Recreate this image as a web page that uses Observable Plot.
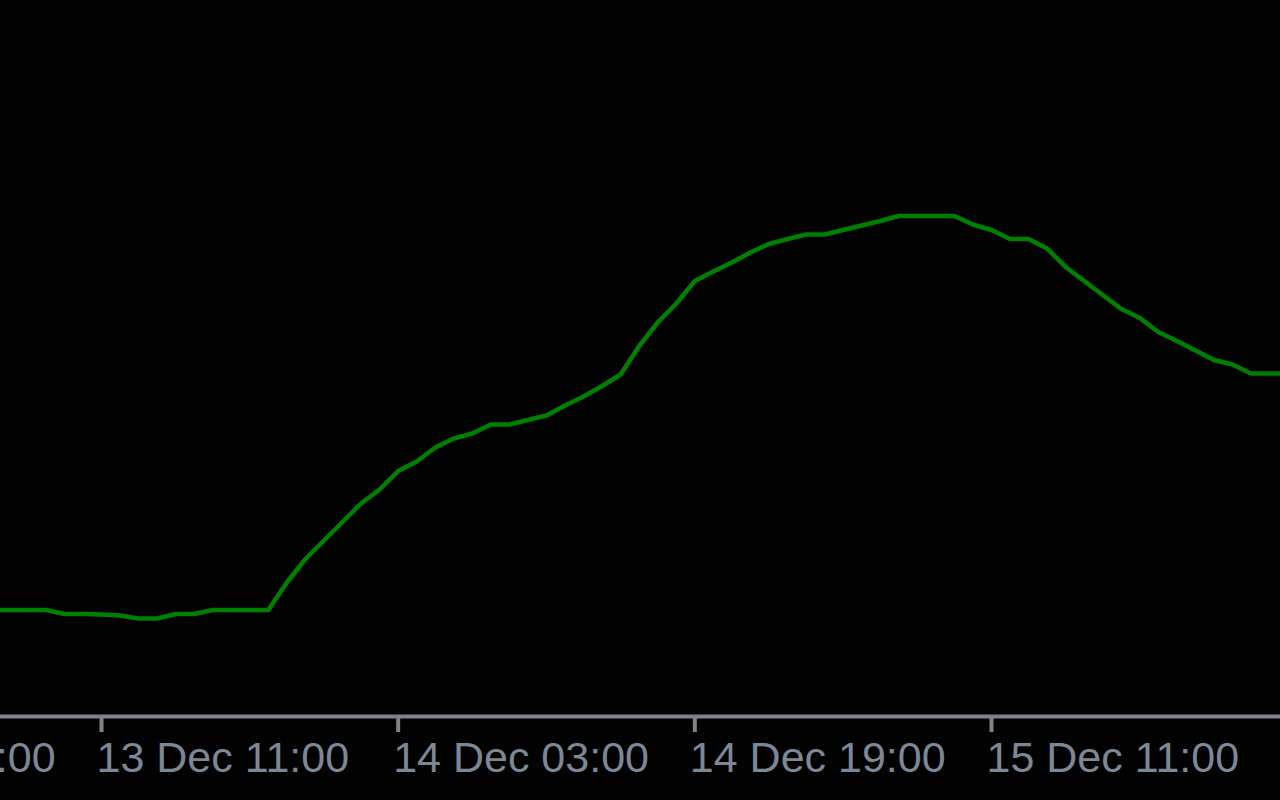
<!DOCTYPE html>
<html>
<head>
<meta charset="utf-8">
<script src="https://cdn.jsdelivr.net/npm/d3@7"></script>
<script src="https://cdn.jsdelivr.net/npm/@observablehq/plot@0.6"></script>
<style>
  html, body { margin: 0; padding: 0; background: #020202; }
  #chart { width: 1280px; height: 800px; overflow: hidden; }
  #chart svg { display: block; }
</style>
</head>
<body>
<div id="chart"></div>
<script>
// Hourly closes, starting 13 Dec 05:00 (arbitrary units; the chart shows no y axis)
const seriesStart = "2023-12-13T05:00:00Z";
const values = [
  10.65, 10.65, 10.65, 10.65, 10.25, 10.25, 10.2, 10.1, 9.8, 9.8, 10.25, 10.25,
  10.65, 10.65, 10.65, 10.65, 13.4, 15.75, 17.6,
  19.45, 21.3, 22.7, 24.55, 25.5, 26.9, 27.8, 28.3, 29.2, 29.2, 29.65, 30.1,
  31.1, 32.0, 33.05, 34.2, 37.05, 39.4, 41.3, 43.55, 44.5, 45.4, 46.4, 47.25,
  47.75, 48.2, 48.2, 48.65, 49.1, 49.55, 50.05, 50.05, 50.05, 50.05, 49.2, 48.65,
  47.75, 47.75, 46.8, 44.95, 43.55, 42.15, 40.75, 39.85, 38.45, 37.55, 36.6, 35.65,
  35.2, 34.3, 34.3, 34.3
];
const tickLabels = ["2023-12-12T19:00:00Z", "2023-12-13T11:00:00Z", "2023-12-14T03:00:00Z", "2023-12-14T19:00:00Z", "2023-12-15T11:00:00Z"];
const xDomain = ["2023-12-13T05:33:10Z", "2023-12-16T02:35:10Z"];
const yDomain = [0, 71.6];

const t0 = new Date(seriesStart);
const data = values.map((v, i) => ({time: d3.utcHour.offset(t0, i), value: v}));
const ticks = tickLabels.map(s => new Date(s));
const fmt = d3.utcFormat("%d %b %H:%M");

const chart = Plot.plot({
  width: 1280,
  height: 800,
  marginTop: 0, marginRight: 0, marginBottom: 84, marginLeft: 0,
  style: {background: "#020202", color: "#7c8896", fontFamily: "'Liberation Sans', Arial, sans-serif", fontSize: "43px", overflow: "visible"},
  x: {type: "utc", domain: xDomain.map(s => new Date(s))},
  y: {domain: yDomain, axis: null},
  marks: [
    Plot.ruleY([yDomain[0]], {stroke: "#80828a", strokeWidth: 4}),
    // tick marks (no labels)
    Plot.axisX(ticks, {
      tickSize: 16, stroke: "#80828a", strokeWidth: 4,
      tickFormat: () => "", label: null
    }),
    // tick labels, left-aligned just before each tick
    Plot.axisX(ticks, {
      tickSize: 0, tickPadding: 25,
      textAnchor: "start", dx: -5, fill: "#7c8896", fontSize: 43,
      tickFormat: fmt, label: null
    }),
    Plot.line(data, {x: "time", y: "value", stroke: "#008000", strokeWidth: 4.5, clip: true})
  ]
});
document.getElementById("chart").appendChild(chart);
</script>
</body>
</html>
